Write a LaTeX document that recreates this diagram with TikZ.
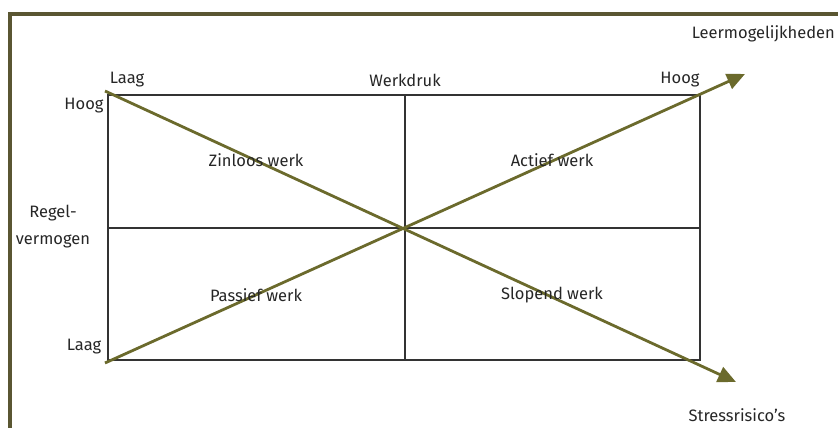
\documentclass[tikz,border=0pt]{standalone}
\usepackage{fontspec}
\setmainfont{Fira Sans}
\usetikzlibrary{arrows.meta,positioning}
\definecolor{olFrame}{HTML}{5A5632}
\definecolor{olArrow}{HTML}{6B6A2C}

\begin{document}
\begin{tikzpicture}[x=1pt,y=-1pt,font=\fontsize{16.5}{19}\selectfont,
  lbl/.style={inner sep=0pt,text=black!85},
  diag/.style={olArrow,line width=2.8pt,-{Triangle[length=18pt,width=16pt]}}]
\useasboundingbox (0,0) rectangle (838,428);
\draw[olFrame,line width=4pt] (10,428)--(10,14)--(838,14);
% grid
\coordinate (tl) at (108,95); \coordinate (br) at (700,360);
\coordinate (mid) at (405,228);
\draw[black!80,line width=1.3pt] (tl) rectangle (br);
\draw[black!80,line width=1.3pt] (405,95)--(405,360) (108,228)--(700,228);
% axes
\coordinate (a1) at (105,91); \coordinate (e1) at (736,382);
\coordinate (a2) at (105,363); \coordinate (e2) at (745,74);
\draw[diag] (a1)--(e1);
\draw[diag] (a2)--(e2);
% labels
\node[lbl] (werk) at (405,80) {Werkdruk};
\node[lbl] (wlaag) at (127,80) {Laag};
\node[lbl] (whoog) at (680,80) {Hoog};
\node[lbl] (rhoog) at (84,106) {Hoog};
\node[lbl] (rlaag) at (84,347) {Laag};
\node[lbl,align=center] (regel) at (53,227) {Regel-\\[8pt]vermogen};
\foreach \n/\x/\y/\t in {zin/256/160/Zinloos werk, act/552/160/Actief werk,
  pas/256/295/Passief werk, slo/552/295/Slopend werk}
  \node[lbl] (\n) at (\x,\y) {\t};
\node[lbl,anchor=east] (leer) at (835,34) {Leermogelijkheden};
\node[lbl] (stress) at (737,415) {Stressrisico's};
\end{tikzpicture}
\end{document}
